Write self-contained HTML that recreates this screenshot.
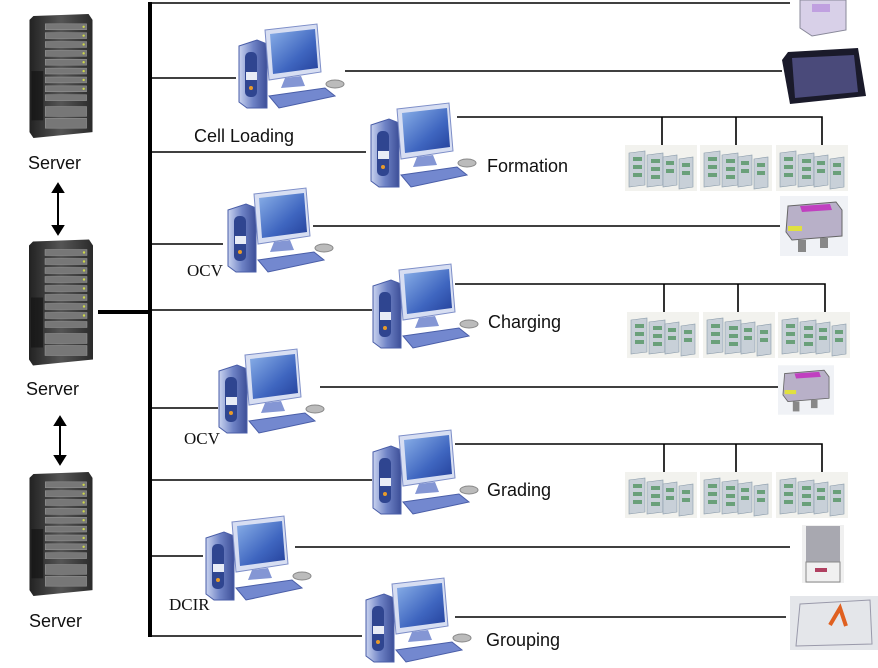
<!DOCTYPE html>
<html><head><meta charset="utf-8"><style>
html,body{margin:0;padding:0;background:#fff;}
svg{display:block;}
text{font-family:"Liberation Sans",sans-serif;font-size:18px;fill:#111;}
.serif{font-family:"Liberation Serif",serif;font-size:17px;}
</style></head><body>
<svg width="878" height="668" viewBox="0 0 878 668" xmlns="http://www.w3.org/2000/svg">
<defs>
<linearGradient id="tw" x1="0" x2="1"><stop offset="0" stop-color="#c9d3ef"/><stop offset="0.5" stop-color="#6f83c6"/><stop offset="1" stop-color="#3d4f98"/></linearGradient>
<linearGradient id="scr" x1="0" y1="0" x2="1" y2="1"><stop offset="0" stop-color="#8ab0e8"/><stop offset="0.6" stop-color="#3f66c0"/><stop offset="1" stop-color="#24409a"/></linearGradient>
<linearGradient id="srv" x1="0" x2="1"><stop offset="0" stop-color="#222"/><stop offset="0.5" stop-color="#555"/><stop offset="1" stop-color="#2a2a2a"/></linearGradient>
<symbol id="pc" viewBox="0 0 115 88">
 <path d="M4 24 L22 18 L32 22 L32 86 L12 86 L4 80 Z" fill="url(#tw)" stroke="#4a5ea8" stroke-width="1"/>
 <rect x="10" y="30" width="12" height="45" rx="5" fill="#2f4590"/>
 <rect x="11" y="50" width="11" height="8" fill="#e8ecf6"/>
 <circle cx="16" cy="66" r="2" fill="#e89a2a"/>
 <path d="M30 8 L82 2 L86 50 L34 58 Z" fill="#d7def2" stroke="#7d8ec8"/>
 <path d="M35 12 L80 7 L83 46 L38 52 Z" fill="url(#scr)"/>
 <path d="M50 56 L66 54 L70 64 L46 66 Z" fill="#8496d4"/>
 <path d="M34 74 L90 66 L100 74 L44 86 Z" fill="#7388cf" stroke="#4a5ea8"/>
 <ellipse cx="100" cy="62" rx="9" ry="4" fill="#bbb" stroke="#888"/>
</symbol>
<symbol id="srvr" viewBox="0 0 68 130">
 <path d="M6 4 L62 2 L66 8 L66 122 L6 128 L2 122 L2 8 Z" fill="url(#srv)"/>
 <g fill="#777" stroke="#999" stroke-width="0.5">
 <rect x="18" y="12" width="42" height="6"/><rect x="18" y="21" width="42" height="6"/><rect x="18" y="30" width="42" height="6"/><rect x="18" y="39" width="42" height="6"/><rect x="18" y="48" width="42" height="6"/><rect x="18" y="57" width="42" height="6"/><rect x="18" y="66" width="42" height="6"/><rect x="18" y="75" width="42" height="6"/><rect x="18" y="84" width="42" height="6"/><rect x="18" y="96" width="42" height="10"/><rect x="18" y="108" width="42" height="10"/></g>
 <g fill="#cdd84a"><circle cx="57" cy="15" r="1.2"/><circle cx="57" cy="24" r="1.2"/><circle cx="57" cy="33" r="1.2"/><circle cx="57" cy="42" r="1.2"/><circle cx="57" cy="51" r="1.2"/><circle cx="57" cy="60" r="1.2"/><circle cx="57" cy="69" r="1.2"/><circle cx="57" cy="78" r="1.2"/></g>
 <rect x="4" y="60" width="12" height="50" fill="#111" opacity="0.6"/>
</symbol>
<symbol id="rack" viewBox="0 0 72 46">
 <rect x="0" y="0" width="72" height="46" fill="#f2f2ee"/>
 <g fill="#c8d0d8" stroke="#8899a8" stroke-width="0.6">
 <path d="M4 8 L20 6 L20 40 L4 42 Z"/><path d="M22 10 L38 8 L38 40 L22 42 Z"/><path d="M38 12 L52 10 L52 40 L38 42 Z"/><path d="M54 14 L68 12 L68 42 L54 44 Z"/></g>
 <g fill="#6aa07a"><rect x="8" y="12" width="9" height="4"/><rect x="8" y="20" width="9" height="4"/><rect x="8" y="28" width="9" height="4"/><rect x="26" y="14" width="9" height="4"/><rect x="26" y="22" width="9" height="4"/><rect x="26" y="30" width="9" height="4"/><rect x="41" y="16" width="8" height="4"/><rect x="41" y="24" width="8" height="4"/><rect x="57" y="18" width="8" height="4"/><rect x="57" y="26" width="8" height="4"/></g>
</symbol>
<symbol id="mach" viewBox="0 0 68 60">
 <rect width="68" height="60" fill="#f0f2f6"/>
 <path d="M8 10 L56 6 L62 14 L62 40 L12 44 L6 36 Z" fill="#b8b0c8" stroke="#666"/>
 <path d="M20 10 L50 8 L52 14 L22 16 Z" fill="#c040c0"/>
 <rect x="8" y="30" width="14" height="5" fill="#e0e040"/>
 <rect x="18" y="44" width="8" height="12" fill="#888"/><rect x="40" y="42" width="8" height="10" fill="#888"/>
</symbol>
</defs>

<!-- bus -->
<line x1="150" y1="2" x2="150" y2="637" stroke="#000" stroke-width="4"/>
<line x1="98" y1="312" x2="150" y2="312" stroke="#000" stroke-width="4"/>

<g stroke="#000" stroke-width="1.6" fill="none">
<line x1="150" y1="3" x2="790" y2="3"/>
<line x1="150" y1="78" x2="236" y2="78"/><line x1="345" y1="71" x2="782" y2="71"/>
<line x1="150" y1="152" x2="366" y2="152"/>
<path d="M457 117 H822 V145 M662 117 V145 M736 117 V145"/>
<line x1="150" y1="244" x2="223" y2="244"/><line x1="313" y1="226" x2="780" y2="226"/>
<line x1="150" y1="310" x2="372" y2="310"/>
<path d="M455 284 H825 V312 M664 284 V312 M738 284 V312"/>
<line x1="150" y1="408" x2="218" y2="408"/><line x1="320" y1="387" x2="780" y2="387"/>
<line x1="150" y1="480" x2="372" y2="480"/>
<path d="M455 444 H822 V472 M664 444 V472 M736 444 V472"/>
<line x1="150" y1="556" x2="203" y2="556"/><line x1="295" y1="547" x2="790" y2="547"/>
<line x1="150" y1="636" x2="362" y2="636"/><line x1="455" y1="617" x2="786" y2="617"/>
</g>

<!-- servers -->
<use href="#srvr" x="27" y="12" width="68" height="128"/>
<use href="#srvr" x="27" y="237" width="68" height="131"/>
<use href="#srvr" x="27" y="470" width="68" height="128"/>
<text x="28" y="169">Server</text>
<text x="26" y="395">Server</text>
<text x="29" y="627">Server</text>
<g stroke="#000" stroke-width="2" fill="#000">
<line x1="58" y1="190" x2="58" y2="228"/><path d="M53 192 L58 184 L63 192Z M53 226 L58 234 L63 226Z"/>
<line x1="60" y1="423" x2="60" y2="458"/><path d="M55 425 L60 417 L65 425Z M55 456 L60 464 L65 456Z"/>
</g>

<!-- computers -->
<use href="#pc" x="235" y="22" width="115" height="88"/>
<use href="#pc" x="367" y="101" width="115" height="88"/>
<use href="#pc" x="224" y="186" width="115" height="88"/>
<use href="#pc" x="369" y="262" width="115" height="88"/>
<use href="#pc" x="215" y="347" width="115" height="88"/>
<use href="#pc" x="369" y="428" width="115" height="88"/>
<use href="#pc" x="202" y="514" width="115" height="88"/>
<use href="#pc" x="362" y="576" width="115" height="88"/>

<text x="194" y="142">Cell Loading</text>
<text x="487" y="172">Formation</text>
<text class="serif" x="187" y="276">OCV</text>
<text x="488" y="328">Charging</text>
<text class="serif" x="184" y="444">OCV</text>
<text x="487" y="496">Grading</text>
<text class="serif" x="169" y="610">DCIR</text>
<text x="486" y="646">Grouping</text>

<!-- equipment -->
<g>
<path d="M800 0 L846 0 L846 30 L812 36 L800 28 Z" fill="#d8d0e8" stroke="#889"/>
<rect x="812" y="4" width="18" height="8" fill="#c0a0e0"/>
<path d="M788 52 L858 48 L866 96 L790 104 L782 60 Z" fill="#1a1a2a"/>
<path d="M792 58 L854 55 L858 92 L795 98 Z" fill="#4a4a7a"/>
<use href="#rack" x="625" y="145" width="72" height="46"/>
<use href="#rack" x="700" y="145" width="72" height="46"/>
<use href="#rack" x="776" y="145" width="72" height="46"/>
<use href="#mach" x="780" y="196" width="68" height="60"/>
<use href="#rack" x="627" y="312" width="72" height="46"/>
<use href="#rack" x="703" y="312" width="72" height="46"/>
<use href="#rack" x="778" y="312" width="72" height="46"/>
<use href="#mach" x="778" y="365" width="56" height="50"/>
<use href="#rack" x="625" y="472" width="72" height="46"/>
<use href="#rack" x="700" y="472" width="72" height="46"/>
<use href="#rack" x="776" y="472" width="72" height="46"/>
<rect x="802" y="525" width="42" height="58" fill="#f0f0f0"/>
<rect x="806" y="526" width="34" height="36" fill="#a8a8b0"/>
<rect x="806" y="562" width="34" height="20" fill="none" stroke="#888"/>
<rect x="815" y="568" width="12" height="4" fill="#b04060"/>
<rect x="790" y="596" width="88" height="54" fill="#e4e6ea"/>
<path d="M800 604 L870 600 L872 644 L796 646 Z" fill="none" stroke="#99a"/>
<path d="M830 625 L840 608 L846 626" stroke="#e06020" stroke-width="4" fill="none"/>
</g>
</svg>
</body></html>
